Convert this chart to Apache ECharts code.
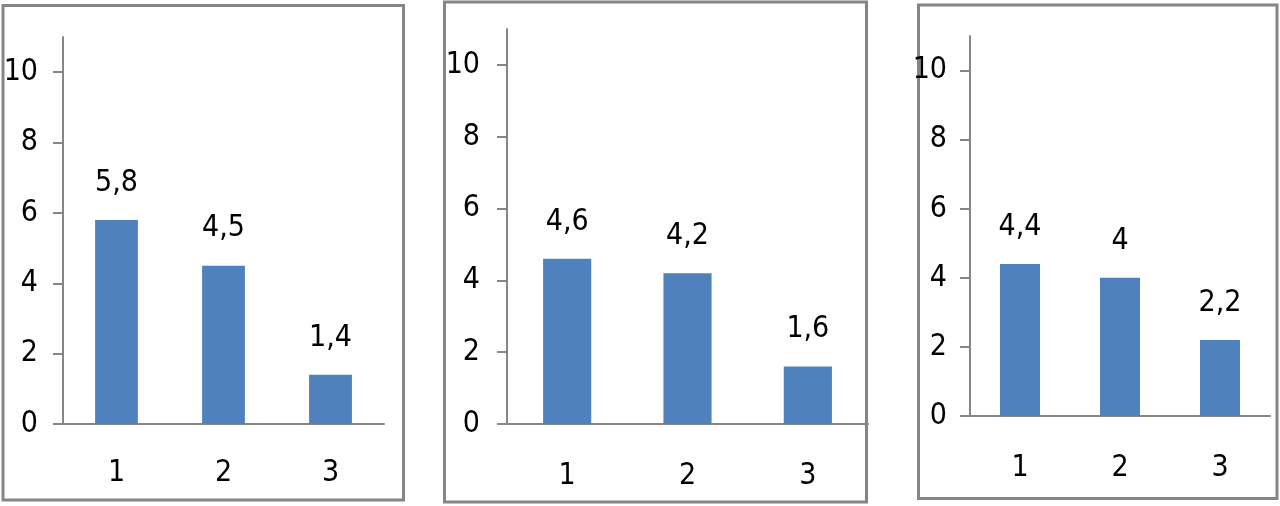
<!DOCTYPE html>
<html>
<head>
<meta charset="utf-8">
<script src="https://cdn.jsdelivr.net/npm/echarts@6/dist/echarts.min.js"></script>
<style>
html,body{margin:0;padding:0;background:#fff;}
#c{width:1280px;height:506px;}
</style>
</head>
<body>
<div id="c"></div>
<script>
const categories = ['1', '2', '3'];
const valuesA = [5.8, 4.5, 1.4];
const valuesB = [4.6, 4.2, 1.6];
const valuesC = [4.4, 4, 2.2];
const yTicks = [0, 2, 4, 6, 8, 10];

const FONT = "'Liberation Sans Narrow', 'DejaVu Sans Condensed', 'Liberation Sans', sans-serif";
const AXIS = '#868686';
const BAR = '#4F81BD';

const grids = [
  {left: 63, right: 896, top: 37, bottom: 82},
  {left: 507, right: 412, top: 29, bottom: 82},
  {left: 970, right: 10, top: 36, bottom: 90}
];
const yMargins = [25, 27, 23];
const xMargins = [34, 37, 37];
const seriesData = [valuesA, valuesB, valuesC];

const fmt = v => String(v).replace('.', ',');

const chart = echarts.init(document.getElementById('c'), null, {renderer: 'canvas'});
chart.setOption({
  animation: false,
  backgroundColor: '#fff',
  grid: grids,
  xAxis: grids.map((g, i) => ({
    type: 'category',
    gridIndex: i,
    data: categories,
    axisLine: {lineStyle: {color: AXIS, width: 2}},
    axisTick: {show: false},
    axisLabel: {color: '#000', fontFamily: FONT, fontSize: 30, margin: xMargins[i]}
  })),
  yAxis: grids.map((g, i) => ({
    type: 'value',
    gridIndex: i,
    min: 0, max: 11, interval: 1,
    splitLine: {show: false},
    axisLine: {show: true, lineStyle: {color: AXIS, width: 2}},
    axisTick: {show: true, length: 10, customValues: yTicks, lineStyle: {color: AXIS, width: 2}},
    axisLabel: {color: '#000', fontFamily: FONT, fontSize: 30, margin: yMargins[i], customValues: yTicks}
  })),
  series: seriesData.map((d, i) => ({
    type: 'bar',
    xAxisIndex: i,
    yAxisIndex: i,
    data: d,
    barWidth: '40%',
    itemStyle: {color: BAR},
    label: {
      show: true, position: 'top', distance: 22,
      color: '#000', fontFamily: FONT, fontSize: 30,
      formatter: p => fmt(p.value)
    }
  })),
  graphic: [
    {type: 'rect', shape: {x: 3, y: 5.5, width: 400.5, height: 494.5}, style: {fill: 'none', stroke: AXIS, lineWidth: 3}},
    {type: 'rect', shape: {x: 444.5, y: 2, width: 422, height: 500}, style: {fill: 'none', stroke: AXIS, lineWidth: 3}},
    {type: 'rect', shape: {x: 918.5, y: 5, width: 358.5, height: 493.5}, style: {fill: 'none', stroke: AXIS, lineWidth: 3}}
  ]
});
</script>
</body>
</html>
